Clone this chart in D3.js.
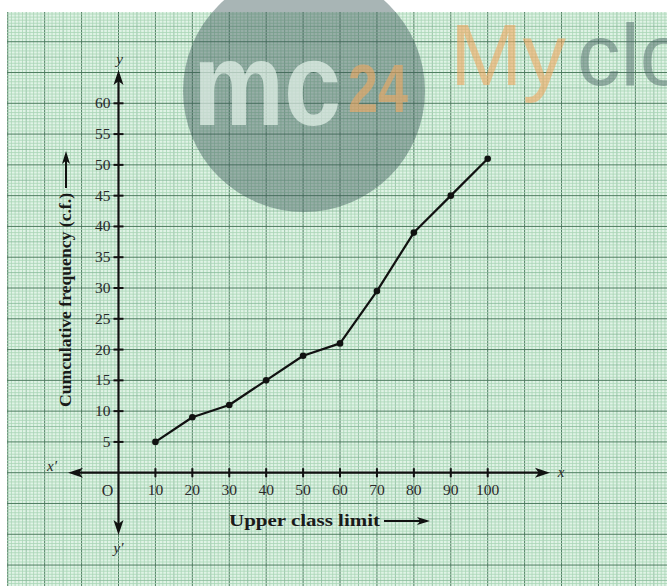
<!DOCTYPE html>
<html>
<head>
<meta charset="utf-8">
<script src="https://cdn.jsdelivr.net/npm/d3@7"></script>
<style>
  body { margin: 0; background: #fff; }
  svg { display: block; }
</style>
</head>
<body>
<svg id="chart" width="667" height="586"></svg>
<script>
let upperLimits = [10, 20, 30, 40, 50, 60, 70, 80, 90, 100];
let cumFreq = [5, 9, 11, 15, 19, 21, 29.5, 39, 45, 51];
let xTicks = [10, 20, 30, 40, 50, 60, 70, 80, 90, 100];
let yTicks = [5, 10, 15, 20, 25, 30, 35, 40, 45, 50, 55, 60];

let svg = d3.select('#chart');
let W = 667, H = 586;

let x = d3.scaleLinear().domain([0, 100]).range([118.5, 487.7]);
let y = d3.scaleLinear().domain([0, 60]).range([472.7, 103.3]);

// Graph paper
let paper = { left: 7, top: 12, right: W, bottom: H };
svg.append('defs').append('clipPath').attr('id', 'paperClip')
  .append('rect')
  .attr('x', paper.left).attr('y', paper.top)
  .attr('width', paper.right - paper.left).attr('height', paper.bottom - paper.top);

let grid = svg.append('g').attr('clip-path', 'url(#paperClip)');
grid.append('rect')
  .attr('x', paper.left).attr('y', paper.top)
  .attr('width', paper.right - paper.left).attr('height', paper.bottom - paper.top)
  .attr('fill', '#e0f3e6');

let xMin = Math.floor(x.invert(paper.left)), xMax = Math.ceil(x.invert(paper.right));
let yMin = Math.floor(y.invert(paper.bottom)), yMax = Math.ceil(y.invert(paper.top));

// vertical lines: 1 unit minor, 10 units major
let vLines = d3.range(xMin, xMax + 1, 1);
grid.selectAll('.v').data(vLines).join('line')
  .attr('x1', d => x(d)).attr('x2', d => x(d))
  .attr('y1', paper.top).attr('y2', paper.bottom)
  .attr('stroke', d => d % 10 === 0 ? '#4e7d60' : (d % 5 === 0 ? '#86b998' : '#a9d6b6'))
  .attr('stroke-width', d => d % 10 === 0 ? 1 : 0.8);

// horizontal lines: 0.5 unit minor, 5 units major
let hLines = d3.range(yMin * 2, yMax * 2 + 1, 1).map(d => d / 2);
grid.selectAll('.h').data(hLines).join('line')
  .attr('y1', d => y(d)).attr('y2', d => y(d))
  .attr('x1', paper.left).attr('x2', paper.right)
  .attr('stroke', d => d % 5 === 0 ? '#4e7d60' : (d % 2.5 === 0 ? '#86b998' : '#a9d6b6'))
  .attr('stroke-width', d => d % 5 === 0 ? 1 : 0.8);

// Watermark
let wm = svg.append('g');
wm.append('circle')
  .attr('cx', 304).attr('cy', 91).attr('r', 121)
  .attr('fill', '#3e5a5c').attr('opacity', 0.45);
wm.append('text')
  .attr('x', 193).attr('y', 125)
  .attr('textLength', 148).attr('lengthAdjust', 'spacingAndGlyphs')
  .attr('font-family', 'Liberation Sans, Arial, sans-serif')
  .attr('font-weight', 'bold').attr('font-size', 118)
  .attr('fill', '#f2fff6').attr('opacity', 0.62)
  .text('mc');
wm.append('text')
  .attr('x', 348).attr('y', 112)
  .attr('textLength', 60).attr('lengthAdjust', 'spacingAndGlyphs')
  .attr('font-family', 'Liberation Sans, Arial, sans-serif')
  .attr('font-weight', 'bold').attr('font-size', 68)
  .attr('fill', '#f0a860').attr('opacity', 0.6)
  .text('24');
wm.append('text')
  .attr('x', 450).attr('y', 85)
  .attr('font-family', 'Liberation Sans, Arial, sans-serif')
  .attr('font-size', 87)
  .attr('fill', '#f0a860').attr('opacity', 0.6)
  .text('My');
wm.append('text')
  .attr('x', 577).attr('y', 85)
  .attr('font-family', 'Liberation Sans, Arial, sans-serif')
  .attr('font-size', 87)
  .attr('fill', '#4f6a68').attr('opacity', 0.5)
  .text('clo');

// Axes
let axisColor = '#111';
let axes = svg.append('g');
let x0 = x(0), y0 = y(0);
let xLeft = 68, xRight = 550, yTop = 70, yBottom = 535;

axes.append('line')
  .attr('x1', xLeft + 10).attr('x2', xRight - 10)
  .attr('y1', y0).attr('y2', y0)
  .attr('stroke', axisColor).attr('stroke-width', 2.2);
axes.append('line')
  .attr('x1', x0).attr('x2', x0)
  .attr('y1', yTop + 10).attr('y2', yBottom - 10)
  .attr('stroke', axisColor).attr('stroke-width', 2.2);

function arrow(tipX, tipY, dir, len, half) {
  let pts;
  if (dir === 'left') pts = [[tipX, tipY], [tipX + len, tipY - half], [tipX + len * 0.75, tipY], [tipX + len, tipY + half]];
  if (dir === 'right') pts = [[tipX, tipY], [tipX - len, tipY - half], [tipX - len * 0.75, tipY], [tipX - len, tipY + half]];
  if (dir === 'up') pts = [[tipX, tipY], [tipX - half, tipY + len], [tipX, tipY + len * 0.75], [tipX + half, tipY + len]];
  if (dir === 'down') pts = [[tipX, tipY], [tipX - half, tipY - len], [tipX, tipY - len * 0.75], [tipX + half, tipY - len]];
  return 'M' + pts.map(p => p.join(',')).join('L') + 'Z';
}
axes.append('path').attr('d', arrow(xLeft, y0, 'left', 15, 5)).attr('fill', axisColor);
axes.append('path').attr('d', arrow(xRight, y0, 'right', 15, 5)).attr('fill', axisColor);
axes.append('path').attr('d', arrow(x0, yTop, 'up', 15, 5)).attr('fill', axisColor);
axes.append('path').attr('d', arrow(x0, yBottom, 'down', 15, 5)).attr('fill', axisColor);

// Ticks
axes.selectAll('.xt').data(xTicks).join('line')
  .attr('x1', d => x(d)).attr('x2', d => x(d))
  .attr('y1', y0 - 4.5).attr('y2', y0 + 4.5)
  .attr('stroke', axisColor).attr('stroke-width', 2);
axes.selectAll('.yt').data(yTicks).join('line')
  .attr('y1', d => y(d)).attr('y2', d => y(d))
  .attr('x1', x0 - 5).attr('x2', x0 + 5)
  .attr('stroke', axisColor).attr('stroke-width', 2);

let serif = 'Liberation Serif, Times New Roman, serif';
let labelColor = '#2a2a2a';
axes.selectAll('.xl').data(xTicks).join('text')
  .attr('x', d => x(d)).attr('y', y0 + 22)
  .attr('text-anchor', 'middle')
  .attr('font-family', serif).attr('font-size', 15.5)
  .attr('fill', labelColor)
  .text(d => d);
axes.selectAll('.yl').data(yTicks).join('text')
  .attr('x', x0 - 8).attr('y', d => y(d) + 5)
  .attr('text-anchor', 'end')
  .attr('font-family', serif).attr('font-size', 15.5)
  .attr('fill', labelColor)
  .text(d => d);

axes.append('text').attr('x', x0 - 11).attr('y', y0 + 23)
  .attr('text-anchor', 'middle').attr('font-family', serif).attr('font-size', 16)
  .attr('fill', labelColor).text('O');

let italic = (tx, ty, s) => axes.append('text').attr('x', tx).attr('y', ty)
  .attr('text-anchor', 'middle').attr('font-family', serif).attr('font-style', 'italic')
  .attr('font-size', 15).attr('fill', labelColor).text(s);
italic(52, y0 - 2, 'x′');
italic(561, y0 + 4, 'x');
italic(x0 + 1, 64, 'y');
italic(x0, 553, 'y′');

// Axis titles
axes.append('text')
  .attr('x', 229).attr('y', 526)
  .attr('textLength', 151).attr('lengthAdjust', 'spacingAndGlyphs')
  .attr('font-family', serif).attr('font-weight', 'bold').attr('font-size', 16)
  .attr('fill', '#1a1a1a')
  .text('Upper class limit');
axes.append('line')
  .attr('x1', 384).attr('x2', 420).attr('y1', 521).attr('y2', 521)
  .attr('stroke', axisColor).attr('stroke-width', 2);
axes.append('path').attr('d', arrow(430, 521, 'right', 13, 4)).attr('fill', axisColor);

axes.append('text')
  .attr('transform', 'translate(71,407) rotate(-90)')
  .attr('textLength', 214).attr('lengthAdjust', 'spacingAndGlyphs')
  .attr('font-family', serif).attr('font-weight', 'bold').attr('font-size', 16)
  .attr('fill', '#1a1a1a')
  .text('Cumculative frequency (c.f.)');
axes.append('line')
  .attr('x1', 66).attr('x2', 66).attr('y1', 188).attr('y2', 160)
  .attr('stroke', axisColor).attr('stroke-width', 2);
axes.append('path').attr('d', arrow(66, 151, 'up', 13, 4)).attr('fill', axisColor);

// Ogive
let points = upperLimits.map((u, i) => [u, cumFreq[i]]);
let line = d3.line().x(d => x(d[0])).y(d => y(d[1]));
svg.append('path')
  .attr('d', line(points))
  .attr('fill', 'none').attr('stroke', '#111').attr('stroke-width', 2.2)
  .attr('stroke-linejoin', 'round');
svg.selectAll('.pt').data(points).join('circle')
  .attr('cx', d => x(d[0])).attr('cy', d => y(d[1])).attr('r', 3.3)
  .attr('fill', '#111');
</script>
</body>
</html>
